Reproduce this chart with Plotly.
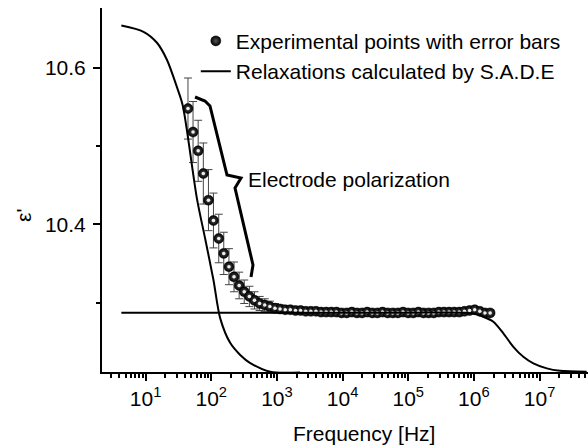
import plotly.graph_objects as go

# ---------------- data ----------------
freq = [44.2, 52.8, 63.2, 75.7, 90.6, 108, 130, 155, 186, 222,
        266, 318, 381, 456, 546, 653, 782, 935, 1119, 1340,
        1603, 1919, 2296, 2748, 3289, 3936, 4710, 5636, 6745, 8072,
        9660, 11561, 13836, 16558, 19815, 23714, 28379, 33963, 40644, 48641,
        58210, 69663, 83368, 99770, 119399, 142889, 171000, 204644, 244906, 293089,
        350752, 419759, 502343, 601174, 719449, 860994, 1030386, 1233104, 1475707, 1766038]
eps = [10.548, 10.518, 10.494, 10.465, 10.431, 10.405, 10.382, 10.363, 10.346, 10.333,
       10.322, 10.314, 10.308, 10.303, 10.299, 10.297, 10.295, 10.293, 10.292, 10.291,
       10.291, 10.290, 10.290, 10.289, 10.289, 10.289, 10.288, 10.288, 10.288, 10.288,
       10.287, 10.287, 10.288, 10.287, 10.287, 10.288, 10.287, 10.287, 10.288, 10.287,
       10.287, 10.287, 10.288, 10.287, 10.287, 10.288, 10.287, 10.287, 10.287, 10.288,
       10.288, 10.288, 10.288, 10.288, 10.289, 10.290, 10.291, 10.289, 10.287, 10.287]
err = [0.039, 0.039, 0.039, 0.039, 0.039, 0.035, 0.031, 0.027, 0.023, 0.019,
       0.017, 0.015, 0.013, 0.011, 0.009, 0.008, 0.007, 0.006, 0.005, 0.004,
       0.003, 0.003, 0.003, 0.003, 0.003, 0.003, 0.003, 0.003, 0.003, 0.003,
       0.002, 0.002, 0.002, 0.002, 0.002, 0.002, 0.002, 0.002, 0.002, 0.002,
       0.002, 0.002, 0.002, 0.002, 0.002, 0.002, 0.002, 0.002, 0.002, 0.002,
       0.002, 0.002, 0.002, 0.002, 0.002, 0.002, 0.002, 0.002, 0.002, 0.002]

# relaxation 1 (electrode polarization region, low frequency)
calc1_freq = [4.27, 9.3, 14.9, 21.2, 30.1, 36.8, 60.5, 81.1, 108, 137, 195, 276, 393, 791, 2265]
calc1_eps = [10.654, 10.646, 10.632, 10.610, 10.575, 10.552, 10.433, 10.381, 10.329, 10.280,
             10.2484, 10.2333, 10.2229, 10.2118, 10.2110]
# relaxation 2 (high frequency)
calc2_freq = [4.27, 1e3, 1e5, 734000, 973000, 1.40e6, 1.98e6, 2.81e6, 3.99e6, 5.66e6,
              8.05e6, 1.29e7, 2.05e7, 5.22e7]
calc2_eps = [10.2873, 10.2873, 10.2873, 10.2873, 10.2861, 10.2820, 10.2756, 10.2608, 10.2437,
             10.2309, 10.2225, 10.2161, 10.2130, 10.2117]

x_tick_vals = [10, 100, 1e3, 1e4, 1e5, 1e6, 1e7]
x_tick_text = ["10<sup>1</sup>", "10<sup>2</sup>", "10<sup>3</sup>", "10<sup>4</sup>",
               "10<sup>5</sup>", "10<sup>6</sup>", "10<sup>7</sup>"]
y_tick_vals = [10.4, 10.6]
y_tick_text = ["10.4", "10.6"]
y_minor_vals = [10.3, 10.5]

FONT = "Arial, Liberation Sans, Helvetica, sans-serif"

fig = go.Figure()

fig.add_trace(go.Scatter(
    x=freq, y=eps, mode="markers", name="Experimental points with error bars",
    error_y=dict(type="data", array=err, visible=True, color="#444444", thickness=1, width=4),
    marker=dict(size=10, color="black", line=dict(width=0.5, color="black"),
                gradient=dict(type="radial", color="#555555")),
))
# specular highlight on the spherical markers
fig.add_trace(go.Scatter(
    x=freq, y=eps, mode="markers", showlegend=False, hoverinfo="skip",
    marker=dict(size=3.5, color="#eeeeee", line=dict(width=0)),
))
fig.add_trace(go.Scatter(
    x=calc1_freq, y=calc1_eps, mode="lines", name="Relaxations calculated by S.A.D.E",
    legendgroup="calc", line=dict(color="black", width=2, shape="spline", smoothing=0.8),
))
fig.add_trace(go.Scatter(
    x=calc2_freq, y=calc2_eps, mode="lines", name="Relaxations calculated by S.A.D.E",
    legendgroup="calc", showlegend=False,
    line=dict(color="black", width=2, shape="spline", smoothing=0.8),
))

minor_x = [m * 10 ** d for d in range(0, 8) for m in range(2, 10)]

fig.update_layout(
    width=588, height=448,
    margin=dict(l=102, r=0, t=8, b=76),
    paper_bgcolor="white", plot_bgcolor="white",
    font=dict(family=FONT, size=21, color="black"),
    showlegend=True,
    legend=dict(x=0.193, y=0.965, xanchor="left", yanchor="top",
                bgcolor="rgba(0,0,0,0)", font=dict(size=21), itemwidth=30,
                tracegroupgap=0),
    xaxis=dict(type="log", range=[0.336, 7.738], showline=True, linecolor="black", linewidth=2,
               showgrid=False, zeroline=False, ticks="outside", ticklen=7, tickwidth=1.5,
               tickcolor="black", tickmode="array", tickvals=x_tick_vals, ticktext=x_tick_text,
               tickfont=dict(size=21), automargin=False,
               minor=dict(ticks="outside", ticklen=4, tickwidth=1.5, tickcolor="black",
                          tickmode="array", tickvals=minor_x, showgrid=False)),
    yaxis=dict(range=[10.2115, 10.6764], showline=True, linecolor="black", linewidth=2,
               showgrid=False, zeroline=False, ticks="outside", ticklen=7, tickwidth=1.5,
               tickcolor="black", tickmode="array", tickvals=y_tick_vals, ticktext=y_tick_text,
               tickfont=dict(size=21), ticklabelstandoff=3, automargin=False,
               minor=dict(ticks="outside", ticklen=4, tickwidth=1.5, tickcolor="black",
                          tickmode="array", tickvals=y_minor_vals, showgrid=False)),
)

# axis titles
fig.add_annotation(text="Frequency [Hz]", xref="paper", yref="paper",
                   x=0.54, y=-0.168, xanchor="center", yanchor="middle",
                   showarrow=False, font=dict(size=21))
fig.add_annotation(text="ε'", xref="paper", yref="paper",
                   x=-0.163, y=0.431, xanchor="center", yanchor="middle",
                   textangle=-90, showarrow=False, font=dict(size=21))

# electrode polarization brace + label
fig.add_shape(type="path", xref="paper", yref="paper",
              path="M 0.1914 0.7555 L 0.2119 0.7445 L 0.2222 0.7308 L 0.2572 0.5412 "
                   "L 0.2860 0.5330 L 0.2737 0.5055 L 0.3107 0.2940 L 0.3066 0.2610",
              line=dict(color="black", width=3))
fig.add_annotation(text="Electrode polarization", xref="paper", yref="paper",
                   x=0.2963, y=0.530, xanchor="left", yanchor="middle",
                   showarrow=False, font=dict(size=21))

fig.write_html("out.html", config={"displayModeBar": False},
               post_script="document.body.style.margin='0';")
